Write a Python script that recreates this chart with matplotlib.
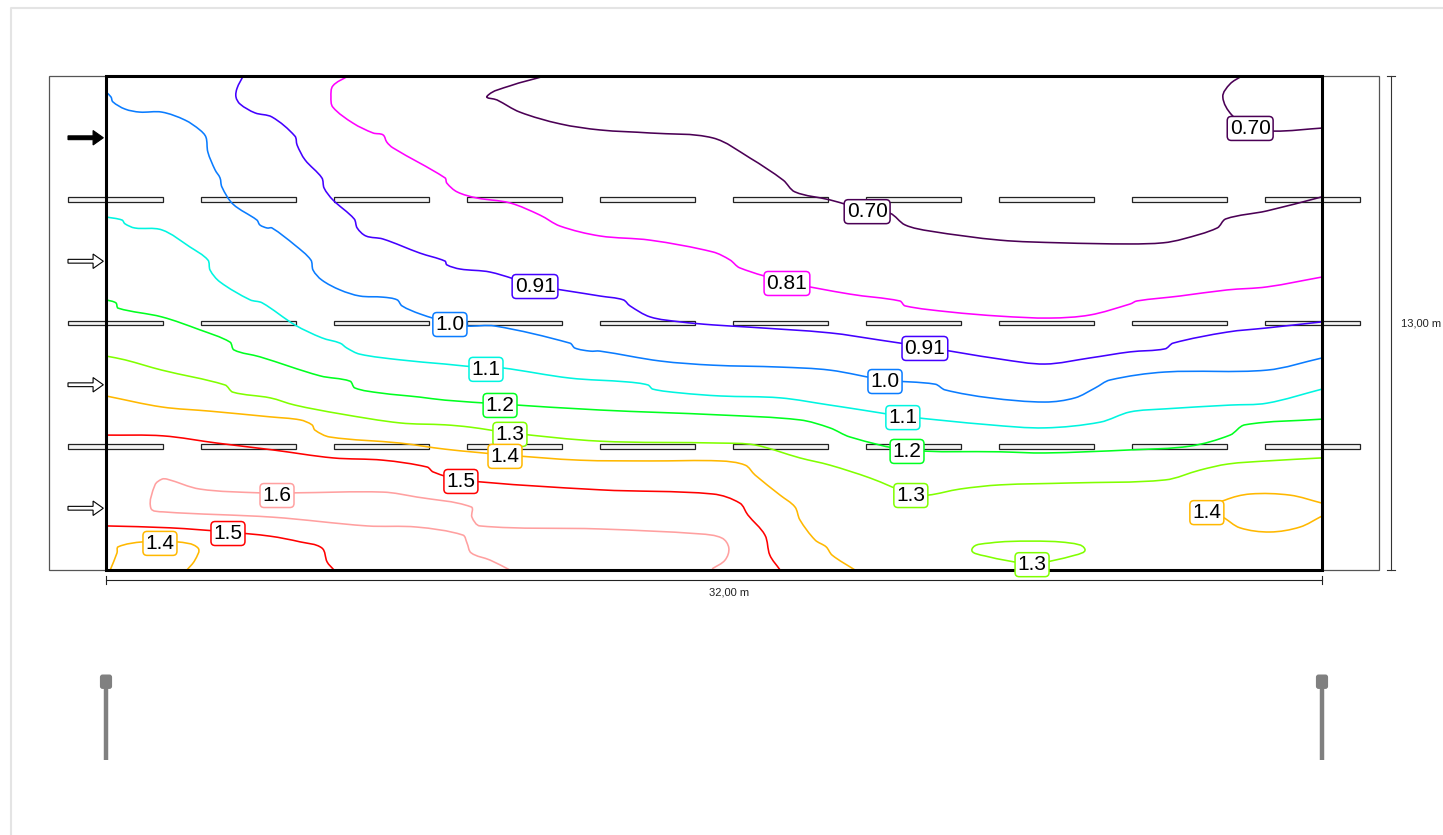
import numpy as np
import matplotlib
matplotlib.use("Agg")
import matplotlib.pyplot as plt
from matplotlib.lines import Line2D
from matplotlib.path import Path
from matplotlib.patches import FancyArrow, FancyBboxPatch, PathPatch, Rectangle

plt.rcParams['font.family'] = ['Liberation Sans', 'DejaVu Sans']

# isolines, all in metres on the 32 x 13 m road
l070a_x = [11.55, 10.63, 10.03, 10.29, 10.89, 11.95, 13.0, 14.32, 15.97, 16.95, 17.82, 18.13, 19.05, 20.03, 20.63, 21.03, 21.68, 23.53, 25.11, 26.95, 27.82, 28.34, 29.24, 29.47, 30.55, 32]
l070a_y = [13, 12.74, 12.47, 12.37, 12.05, 11.74, 11.58, 11.5, 11.37, 10.84, 10.26, 9.95, 9.74, 9.47, 9.39, 9.08, 8.92, 8.68, 8.61, 8.58, 8.61, 8.71, 9.0, 9.24, 9.45, 9.82]
l070b_x = [29.89, 29.58, 29.39, 29.63, 30.11, 30.74, 32]
l070b_y = [13, 12.79, 12.45, 11.97, 11.66, 11.55, 11.63]
l081_x = [6.37, 5.97, 5.92, 5.97, 6.5, 7.03, 7.29, 7.39, 7.55, 8.92, 8.97, 9.24, 9.76, 10.63, 11.42, 11.95, 13.0, 14.32, 15.97, 16.42, 16.68, 17.92, 19.58, 20.89, 21.03, 22.21, 23.53, 24.84, 25.89, 26.95, 27.13, 28.26, 29.5, 30.55, 32]
l081_y = [13, 12.74, 12.45, 12.18, 11.76, 11.5, 11.45, 11.26, 11.11, 10.32, 10.18, 9.95, 9.79, 9.66, 9.34, 9.05, 8.79, 8.68, 8.37, 8.16, 7.95, 7.58, 7.26, 7.08, 6.95, 6.79, 6.68, 6.63, 6.71, 7.0, 7.08, 7.21, 7.37, 7.45, 7.71]
l091_x = [3.61, 3.45, 3.42, 3.53, 3.92, 4.37, 4.97, 5.03, 5.24, 5.68, 5.74, 5.97, 6.53, 6.61, 6.84, 7.29, 8.26, 8.92, 8.97, 9.32, 10.11, 11.29, 13.0, 13.61, 13.79, 14.32, 15.11, 15.97, 16.95, 19.05, 20.37, 21.55, 23.53, 24.71, 25.89, 26.95, 27.87, 28.08, 29.5, 30.55, 32]
l091_y = [13, 12.68, 12.45, 12.26, 12.03, 11.92, 11.42, 11.18, 10.79, 10.32, 10.05, 9.74, 9.24, 9.0, 8.79, 8.71, 8.34, 8.13, 8.03, 7.92, 7.84, 7.5, 7.21, 7.11, 6.95, 6.66, 6.53, 6.45, 6.39, 6.24, 6.05, 5.87, 5.55, 5.42, 5.58, 5.74, 5.82, 5.97, 6.26, 6.37, 6.53]
l100_x = [0, 0.13, 0.18, 0.5, 0.89, 1.47, 2.08, 2.47, 2.63, 2.68, 2.87, 3.0, 3.05, 3.34, 3.97, 4.05, 4.24, 4.37, 4.97, 5.39, 5.45, 5.68, 6.16, 6.68, 7.29, 7.66, 7.79, 8.26, 9.05, 9.5, 10.24, 12.21, 12.34, 12.74, 13.0, 14.58, 15.97, 17.74, 19.05, 20.5, 21.82, 22.08, 23.26, 24.71, 25.5, 26.03, 26.42, 27.87, 30.55, 32]
l100_y = [12.58, 12.45, 12.32, 12.13, 12.05, 12.05, 11.84, 11.58, 11.39, 11.0, 10.53, 10.32, 10.08, 9.63, 9.21, 9.08, 9.0, 9.0, 8.55, 8.16, 7.89, 7.63, 7.37, 7.21, 7.18, 7.11, 6.95, 6.74, 6.5, 6.42, 6.42, 5.97, 5.84, 5.76, 5.76, 5.5, 5.39, 5.34, 5.26, 5.0, 4.89, 4.74, 4.53, 4.42, 4.53, 4.79, 5.0, 5.21, 5.26, 5.58]
l110_x = [0, 0.42, 0.5, 0.76, 1.47, 2.21, 2.68, 2.74, 3.0, 3.79, 4.11, 4.97, 5.68, 6.16, 6.34, 6.68, 7.74, 8.92, 10.0, 10.42, 12.21, 13.71, 14.26, 14.39, 15.11, 16.16, 17.74, 19.05, 19.58, 20.97, 23.26, 24.71, 26.16, 26.95, 27.87, 29.58, 30.55, 32]
l110_y = [9.29, 9.21, 9.11, 9.0, 8.95, 8.5, 8.16, 7.89, 7.58, 7.11, 7.03, 6.45, 6.11, 5.97, 5.84, 5.68, 5.53, 5.42, 5.32, 5.32, 5.05, 4.95, 4.87, 4.76, 4.66, 4.58, 4.53, 4.34, 4.26, 4.05, 3.82, 3.74, 3.89, 4.16, 4.24, 4.34, 4.39, 4.76]
l120_x = [0, 0.26, 0.32, 1.47, 2.47, 3.26, 3.37, 4.05, 5.63, 6.42, 6.55, 7.21, 8.26, 8.92, 10.37, 13.0, 16.16, 18.26, 19.05, 19.58, 21.08, 23.53, 24.71, 26.95, 28.53, 29.58, 29.97, 32]
l120_y = [7.11, 7.03, 6.89, 6.66, 6.32, 6.0, 5.79, 5.61, 5.11, 4.97, 4.79, 4.66, 4.55, 4.47, 4.37, 4.21, 4.08, 3.95, 3.74, 3.5, 3.16, 3.11, 3.08, 3.16, 3.26, 3.55, 3.82, 3.97]
l130a_x = [0, 0.5, 1.47, 3.13, 3.34, 4.32, 4.97, 6.16, 7.74, 8.92, 9.58, 10.63, 13.0, 16.16, 17.08, 18.26, 19.05, 20.11, 21.18, 21.63, 22.47, 23.53, 25.37, 27.87, 28.79, 29.53, 30.55, 32]
l130a_y = [5.63, 5.53, 5.26, 4.87, 4.68, 4.53, 4.34, 4.11, 3.87, 3.82, 3.76, 3.61, 3.39, 3.34, 3.29, 2.95, 2.76, 2.42, 2.0, 1.97, 2.13, 2.24, 2.29, 2.37, 2.63, 2.79, 2.87, 2.95]
l130b_x = [24.32, 23.26, 22.79, 23.13, 24.37, 25.5, 25.76, 25.37, 24.32]
l130b_y = [0.76, 0.71, 0.55, 0.37, 0.18, 0.39, 0.55, 0.71, 0.76]
l140a_x = [0, 1.47, 2.74, 4.32, 5.11, 5.42, 5.5, 5.89, 7.74, 8.92, 10.5, 12.47, 14.32, 16.16, 16.82, 17.08, 17.74, 18.13, 18.26, 18.66, 18.95, 19.11, 19.71]
l140a_y = [4.58, 4.29, 4.18, 4.03, 3.95, 3.82, 3.68, 3.5, 3.34, 3.18, 3.03, 2.89, 2.87, 2.87, 2.76, 2.5, 1.97, 1.66, 1.32, 0.79, 0.61, 0.39, 0]
l140b_x = [0.11, 0.29, 0.32, 0.97, 1.87, 2.42, 2.34, 2.13]
l140b_y = [0, 0.45, 0.61, 0.74, 0.74, 0.58, 0.26, 0]
l140c_x = [32, 31.16, 30.11, 29.45, 28.97, 29.39, 29.84, 30.63, 31.42, 32]
l140c_y = [1.76, 1.97, 2.0, 1.84, 1.55, 1.39, 1.11, 1.0, 1.13, 1.42]
l150a_x = [0, 1.5, 2.92, 4.39, 5.97, 7.29, 8.45, 8.61, 9.34, 13.0, 15.97, 16.68, 16.89, 17.34, 17.47, 17.74]
l150a_y = [3.55, 3.53, 3.34, 3.16, 2.95, 2.89, 2.71, 2.58, 2.37, 2.11, 2.0, 1.76, 1.45, 0.92, 0.39, 0]
l150b_x = [0, 1.68, 3.21, 4.32, 5.11, 5.68, 5.82, 6.0]
l150b_y = [1.16, 1.11, 1.0, 0.89, 0.74, 0.58, 0.21, 0]
l160_x = [10.63, 10.11, 9.61, 9.5, 9.39, 8.18, 6.87, 4.39, 1.5, 1.18, 1.29, 1.47, 1.61, 2.47, 4.05, 4.92, 7.29, 8.18, 9.61, 9.63, 9.84, 13.0, 15.63, 16.21, 16.39, 16.29, 15.95]
l160_y = [0, 0.26, 0.45, 0.71, 0.92, 1.13, 1.16, 1.39, 1.53, 1.63, 2.24, 2.39, 2.39, 2.13, 2.03, 2.03, 2.05, 1.92, 1.66, 1.39, 1.16, 1.08, 0.95, 0.84, 0.58, 0.26, 0.03]

isolines = [
    (l070a_x, l070a_y, '#4b0055'), (l070b_x, l070b_y, '#4b0055'),
    (l081_x, l081_y, '#ff00ff'), (l091_x, l091_y, '#4400ff'),
    (l100_x, l100_y, '#0a7cff'), (l110_x, l110_y, '#00f5e0'),
    (l120_x, l120_y, '#00ff20'), (l130a_x, l130a_y, '#80ff00'),
    (l130b_x, l130b_y, '#80ff00'), (l140a_x, l140a_y, '#ffb800'),
    (l140b_x, l140b_y, '#ffb800'), (l140c_x, l140c_y, '#ffb800'),
    (l150a_x, l150a_y, '#ff0000'), (l150b_x, l150b_y, '#ff0000'),
    (l160_x, l160_y, '#ffa0a0'),
]

# isoline labels
label_text = ['0.70', '0.70', '0.81', '0.91', '0.91', '1.0', '1.0', '1.1', '1.1', '1.2', '1.2', '1.3', '1.3', '1.3', '1.4', '1.4', '1.4', '1.5', '1.5', '1.6']
label_x = [20.03, 30.11, 17.92, 11.29, 21.55, 9.05, 20.5, 10.0, 20.97, 10.37, 21.08, 10.63, 21.18, 24.37, 10.5, 1.42, 28.97, 9.34, 3.21, 4.5]
label_y = [9.47, 11.66, 7.58, 7.5, 5.87, 6.5, 5.0, 5.32, 4.05, 4.37, 3.16, 3.61, 2.0, 0.18, 3.03, 0.74, 1.55, 2.37, 1.0, 2.0]
label_color = ['#4b0055', '#4b0055', '#ff00ff', '#4400ff', '#4400ff', '#0a7cff', '#0a7cff', '#00f5e0', '#00f5e0', '#00ff20', '#00ff20', '#80ff00', '#80ff00', '#80ff00', '#ffb800', '#ffb800', '#ffb800', '#ff0000', '#ff0000', '#ffa0a0']

# road layout
road_len = 32
road_w = 13
lane_y = [9.75, 6.5, 3.25]
dash_x = [-1, 2.5, 6, 9.5, 13, 16.5, 20, 23.5, 27, 30.5]
dash_len = 2.5
arrow_y = [11.375, 8.125, 4.875, 1.625]
pole_x = [0, 32]


def curve_path(xs, ys):
    # bezier through the read points, so the line bends instead of breaking
    p = np.column_stack([xs, ys])
    closed = np.allclose(p[0], p[-1])
    n = len(p)
    tang = np.zeros_like(p)
    tang[1:-1] = p[2:] - p[:-2]
    tang[0] = p[1] - p[0]
    tang[-1] = p[-1] - p[-2]
    if closed:
        tang[0] = tang[-1] = p[1] - p[-2]
    tang = tang / np.linalg.norm(tang, axis=1, keepdims=True)
    verts = [p[0]]
    codes = [Path.MOVETO]
    for i in range(n - 1):
        d = np.linalg.norm(p[i + 1] - p[i]) / 3
        verts += [p[i] + tang[i] * d, p[i + 1] - tang[i + 1] * d, p[i + 1]]
        codes += [Path.CURVE4] * 3
    return Path(verts, codes)


fig = plt.figure(figsize=(14.43, 8.35), dpi=100)
ax = fig.add_axes([106 / 1443, 1 - 570 / 835, 1216 / 1443, 494 / 835])
ax.set_xlim(0, road_len)
ax.set_ylim(0, road_w)
ax.axis('off')

# page edge
fig.add_artist(Line2D([10.5 / 1443, 10.5 / 1443, 1], [0, 1 - 7.5 / 835, 1 - 7.5 / 835], color='#e4e4e4', lw=1.5))

# surround
ax.add_patch(Rectangle((-1.5, 0), 35, road_w, fc='none', ec='#555555', lw=0.9, clip_on=False, zorder=1))

# dashes on the lane lines
for y in lane_y:
    for x in dash_x:
        ax.add_patch(Rectangle((x, y - 0.055), dash_len, 0.11, fc='#f4f4f4', ec='#222222', lw=0.9, clip_on=False, zorder=2))

# driving direction
for i, y in enumerate(arrow_y):
    fc = 'black' if i == 0 else 'white'
    ax.add_patch(FancyArrow(-1, y, 0.93, 0, width=0.1, head_width=0.38, head_length=0.27,
                            length_includes_head=True, fc=fc, ec='black', lw=0.8, clip_on=False, zorder=3))

for xs, ys, col in isolines:
    ax.add_patch(PathPatch(curve_path(xs, ys), fc='none', ec=col, lw=1.15, zorder=4, clip_on=False))

ax.add_patch(Rectangle((0, 0), road_len, road_w, fc='none', ec='black', lw=2.2, clip_on=False, zorder=5))

for t, x, y, col in zip(label_text, label_x, label_y, label_color):
    ax.text(x, y - 0.04, t, fontsize=15, color='black', ha='center', va='center', zorder=6,
            bbox=dict(boxstyle='round,pad=0.12,rounding_size=0.2', fc='white', ec=col, lw=1.1))

# dimensions
ax.plot([0, road_len], [-0.27, -0.27], color='#222222', lw=0.8, clip_on=False)
for x in [0, road_len]:
    ax.plot([x, x], [-0.37, -0.17], color='#222222', lw=0.8, clip_on=False)
ax.text(16.39, -0.58, '32,00 m', fontsize=8, color='#222222', ha='center', va='center', clip_on=False)
ax.plot([33.82, 33.82], [0, road_w], color='#333333', lw=0.8, clip_on=False)
for y in [0, road_w]:
    ax.plot([33.72, 33.92], [y, y], color='#333333', lw=0.8, clip_on=False)
ax.text(34.08, road_w / 2, '13,00 m', fontsize=8, color='#222222', ha='left', va='center', clip_on=False)

# lighting poles
for x in pole_x:
    ax.plot([x, x], [-3.1, -5], color='#808080', lw=3.2, solid_capstyle='butt', clip_on=False)
    ax.add_patch(FancyBboxPatch((x - 0.12, -3.09), 0.24, 0.3, boxstyle='round,pad=0.04,rounding_size=0.07',
                                fc='#808080', ec='none', clip_on=False))

fig.savefig('out.png', dpi=100)
